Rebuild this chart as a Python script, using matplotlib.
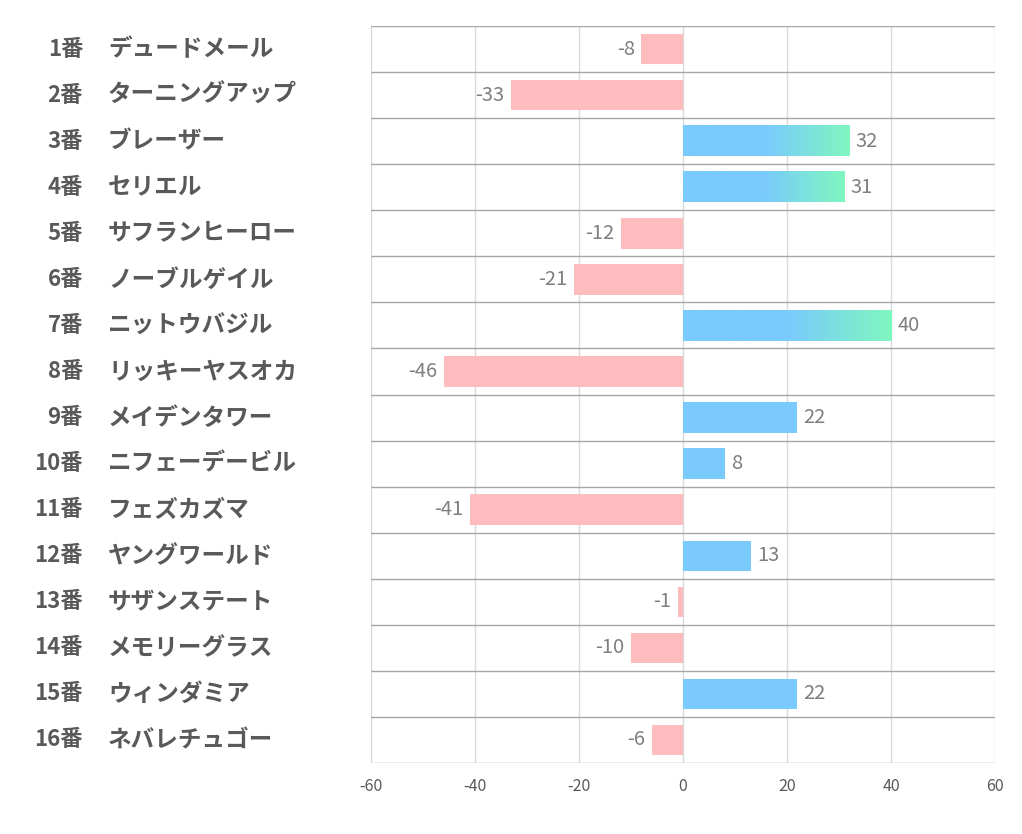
import matplotlib.pyplot as plt
import numpy as np
from matplotlib.colors import LinearSegmentedColormap

plt.rcParams['font.family'] = ['Noto Sans CJK JP', 'DejaVu Sans']

numbers = ["1番", "2番", "3番", "4番", "5番", "6番", "7番", "8番",
           "9番", "10番", "11番", "12番", "13番", "14番", "15番", "16番"]
names = ["デュードメール", "ターニングアップ", "ブレーザー", "セリエル", "サフランヒーロー",
         "ノーブルゲイル", "ニットウバジル", "リッキーヤスオカ", "メイデンタワー",
         "ニフェーデービル", "フェズカズマ", "ヤングワールド", "サザンステート",
         "メモリーグラス", "ウィンダミア", "ネバレチュゴー"]
values = [-8, -33, 32, 31, -12, -21, 40, -46, 22, 8, -41, 13, -1, -10, 22, -6]
ticks = [-60, -40, -20, 0, 20, 40, 60]

pink = '#FFBCBE'
blue = '#7ACAFD'
green = '#7FF7BF'

fig = plt.figure(figsize=(10.22, 8.34), dpi=100)
ax = fig.add_axes([0.363, 0.0851, 0.6106, 0.8837])

n = len(values)
y = np.arange(n)
h = 0.66

grad_cmap = LinearSegmentedColormap.from_list('g', [blue, blue, green], N=256)
grad = np.linspace(0, 1, 256).reshape(1, -1)

for i, v in enumerate(values):
    if v < 0:
        ax.barh(i, v, height=h, color=pink, zorder=2)
        ax.text(v - 1.3, i, str(v), ha='right', va='center', fontsize=14.5, color='#7F7F7F', zorder=3)
    else:
        ax.barh(i, v, height=h, color=blue, zorder=2)
        if v >= 30:
            ax.imshow(grad, cmap=grad_cmap, aspect='auto', extent=(0, v, i + h / 2, i - h / 2),
                      zorder=2.5, interpolation='bilinear')
        ax.text(v + 1.2, i, str(v), ha='left', va='center', fontsize=14.5, color='#7F7F7F', zorder=3)

ax.set_xlim(-60, 60)
ax.set_ylim(n - 0.5, -0.5)
ax.set_xticks(ticks)
ax.set_xticklabels([str(t) for t in ticks], fontsize=11.5, color='#595959')
ax.tick_params(axis='x', length=0, pad=11)
ax.set_yticks([])

for t in ticks:
    ax.axvline(t, color='#D9D9D9', lw=1, zorder=1)
for b in np.arange(-0.5, n, 1):
    ax.axhline(b, color='#A6A6A6', lw=1, zorder=1)

for s in ax.spines.values():
    s.set_visible(False)

for i in range(n):
    ax.annotate(numbers[i], xy=(0, i), xycoords=('figure pixels', 'data'),
                xytext=(83, 0), textcoords=('figure pixels', 'offset points'),
                ha='right', va='center', fontsize=16, fontweight='bold', color='#595959')
    ax.annotate(names[i], xy=(0, i), xycoords=('figure pixels', 'data'),
                xytext=(108, 0), textcoords=('figure pixels', 'offset points'),
                ha='left', va='center', fontsize=17, fontweight='bold', color='#595959')

fig.savefig('out.png', dpi=100)
